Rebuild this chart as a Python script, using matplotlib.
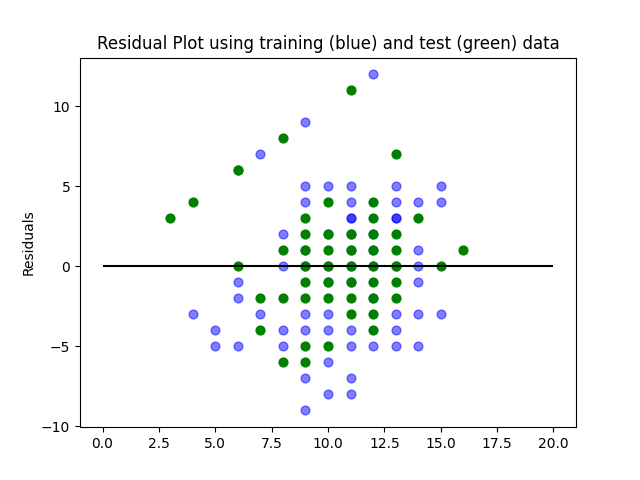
import matplotlib
matplotlib.use("Agg")
import matplotlib.pyplot as plt

train_x = [12,9,7,6,9,10,11,13,15,9,11,13,14,15,11,13,8,10,11,12,14,11,13,14,8,9,10,11,12,
           4,5,5,6,6,6,7,8,8,9,9,9,9,10,10,10,10,11,11,11,11,12,13,13,14,14,15,11,13,14,10,12,9,11,12,13]
train_y = [12,9,7,6,5,5,5,5,5,4,4,4,4,4,3,3,2,2,2,2,1,1,0,0,0,0,0,0,0,
           -3,-4,-5,-1,-2,-5,-3,-4,-5,-3,-4,-7,-9,-3,-4,-6,-8,-4,-5,-7,-8,-5,-4,-5,-3,-5,-3,-1,-3,-1,-1,-2,1,3,1,3]
test_x = [3,4,6,6,8,11,13,16,7,7,8,8,8,9,9,9,9,9,9,9,9,10,10,10,10,10,10,10,
          11,11,11,11,11,11,12,12,12,12,12,12,12,12,12,13,13,13,13,13,14,15]
test_y = [3,4,6,0,8,11,7,1,-2,-4,1,-2,-6,3,2,1,0,-1,-2,-5,-6,4,2,1,0,-1,-2,-5,
          2,1,0,-1,-2,-3,4,3,2,1,0,-1,-2,-3,-4,2,1,0,-1,-2,3,0]

fig, ax = plt.subplots(figsize=(6.4, 4.8), dpi=100)
ax.scatter(train_x, train_y, c='b', s=40, alpha=0.5)
ax.scatter(test_x, test_y, c='g', s=40)
ax.hlines(y=0, xmin=0, xmax=20, color='k', lw=1.5)
ax.set_title('Residual Plot using training (blue) and test (green) data')
ax.set_ylabel('Residuals')
fig.savefig('out.png')
